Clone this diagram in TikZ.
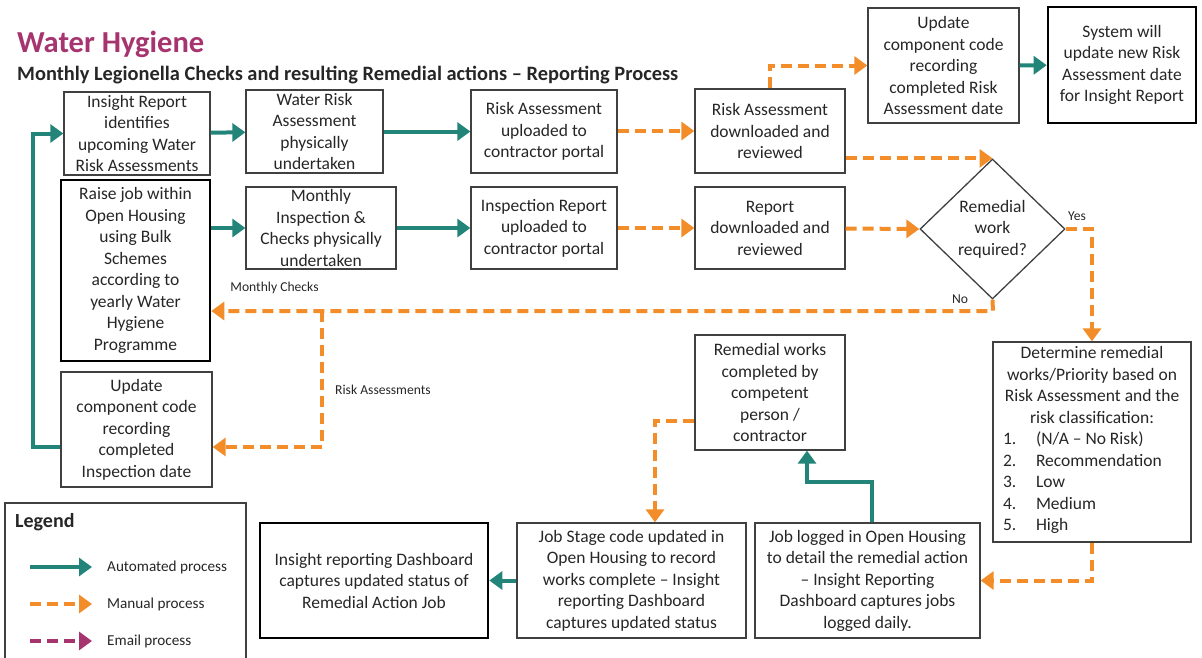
\documentclass[tikz,border=0pt]{standalone}
\usepackage{fontspec}
\setmainfont{Carlito}
\usetikzlibrary{arrows.meta,shapes.geometric}
\definecolor{whteal}{RGB}{35,132,122}
\definecolor{whorange}{RGB}{242,141,42}
\definecolor{whplum}{RGB}{166,52,110}
\definecolor{whgrey}{RGB}{64,64,64}

\begin{document}
\begin{tikzpicture}[
    x=1pt, y=-1pt,
    font=\fontsize{17.5}{21.5}\selectfont,
    text=black!85
]
	\tikzset{
	    procnode/.style = {rectangle, draw=whgrey, line width=1.3pt, align=center, inner sep=0pt},
	    procnodeb/.style = {rectangle, draw=black, line width=2.6pt, align=center, inner sep=0pt},
	    decnode/.style = {diamond, draw=whgrey, line width=1.3pt, align=center, inner sep=0pt, minimum width=145pt, minimum height=140pt},
	    edgeauto/.style = {-{Triangle[length=13pt,width=18pt]}, line width=4pt, whteal},
	    edgeman/.style = {-{Triangle[length=13pt,width=18pt]}, line width=4pt, whorange, dash pattern=on 11pt off 6pt},
	    edgemail/.style = {edgeman, whplum},
	    smalllbl/.style = {font=\fontsize{13.6}{16}\selectfont, inner sep=0pt},
	    legendlbl/.style = {font=\fontsize{15.2}{18}\selectfont, inner sep=0pt, anchor=west}
	}
	\useasboundingbox (0,0) rectangle (1202,657);
	% heading
	\node[anchor=base west, inner sep=0pt, text=whplum, font=\fontsize{30.5}{36}\selectfont\bfseries] at (17,52) (title) {Water Hygiene};
	\node[anchor=base west, inner sep=0pt, font=\fontsize{20.4}{24}\selectfont\bfseries] at (17,80) (subtitle) {Monthly Legionella Checks and resulting Remedial actions – Reporting Process};
	% top row
	\node[procnode, minimum width=146pt, minimum height=83pt] at (137,133.5) (insight) {Insight Report\\identifies\\upcoming Water\\Risk Assessments};
	\node[procnode, minimum width=137pt, minimum height=83pt] at (314.5,131.5) (wrassess) {Water Risk\\Assessment\\physically\\undertaken};
	\node[procnode, minimum width=146pt, minimum height=83pt] at (544,131.5) (raup) {Risk Assessment\\uploaded to\\contractor portal};
	\node[procnode, minimum width=150pt, minimum height=84pt] at (770,131) (radown) {Risk Assessment\\downloaded and\\reviewed};
	\node[procnode, minimum width=151pt, minimum height=115pt] at (943.5,65.5) (updtop) {Update\\component code\\recording\\completed Risk\\Assessment date};
	\node[procnodeb, minimum width=148pt, minimum height=116pt] at (1122,65) (sysupd) {System will\\update new Risk\\Assessment date\\for Insight Report};
	% second row
	\node[procnodeb, minimum width=149pt, minimum height=181pt] at (135.5,270.5) (raisejob) {Raise job within\\Open Housing\\using Bulk\\Schemes\\according to\\yearly Water\\Hygiene\\Programme};
	\node[procnode, minimum width=150pt, minimum height=82pt] at (321,228) (monthly) {Monthly\\Inspection \&\\Checks physically\\undertaken};
	\node[procnode, minimum width=146pt, minimum height=82pt] at (544,228) (inspup) {Inspection Report\\uploaded to\\contractor portal};
	\node[procnode, minimum width=150pt, minimum height=82pt] at (770,228) (repdown) {Report\\downloaded and\\reviewed};
	\node[decnode] at (992.5,229) (remreq) {Remedial\\work\\required?};
	% lower part
	\node[procnode, minimum width=198pt, minimum height=200pt] at (1092,442) (determine) {Determine remedial\\works/Priority based on\\Risk Assessment and the\\risk classification:\\
	    \makebox[190pt][l]{\hspace{6pt}\begin{tabular}[t]{@{}p{33pt}@{}l@{}}1.&(N/A – No Risk)\\2.&Recommendation\\3.&Low\\4.&Medium\\5.&High\end{tabular}}};
	\node[procnode, minimum width=150pt, minimum height=115pt] at (770,392.5) (remdone) {Remedial works\\completed by\\competent\\person /\\contractor};
	\node[procnode, minimum width=151pt, minimum height=115pt] at (136.5,429.5) (updbot) {Update\\component code\\recording\\completed\\Inspection date};
	\node[procnode, minimum width=225pt, minimum height=115pt] at (867.5,580.5) (joblog) {Job logged in Open Housing\\to detail the remedial action\\– Insight Reporting\\Dashboard captures jobs\\logged daily.};
	\node[procnode, minimum width=229pt, minimum height=115pt] at (631.5,580.5) (jobstage) {Job Stage code updated in\\Open Housing to record\\works complete – Insight\\reporting Dashboard\\captures updated status};
	\node[procnodeb, minimum width=228pt, minimum height=115pt] at (374,580.5) (dashbd) {Insight reporting Dashboard\\captures updated status of\\Remedial Action Job};
	% bend points
	\coordinate (loopbend) at (33,447);
	\coordinate (nobend) at (993,311);
	\coordinate (rabranch) at (322,311);
	\coordinate (rabend) at (322,447);
	\coordinate (rdbend) at (655,421);
	\coordinate (jlbend) at (872,482);
	\coordinate (jlbendb) at (807,482);
	% automated flows
	\draw[edgeauto] (insight) -- (wrassess);
	\draw[edgeauto] (wrassess) -- (raup);
	\draw[edgeauto] (raisejob.east |- monthly) -- (monthly);
	\draw[edgeauto] (monthly) -- (inspup);
	\draw[edgeauto] (updtop) -- (sysupd);
	\draw[edgeauto] (updbot.west |- loopbend) -- (loopbend) |- (insight.west);
	\draw[edgeauto] (jobstage) -- (dashbd);
	\draw[edgeauto] (jlbend |- joblog.north) -- (jlbend) -- (jlbendb) -- (jlbendb |- remdone.south);
	% manual flows
	\draw[edgeman] (raup.east |- radown) -- (radown);
	\draw[edgeman] (inspup) -- (repdown);
	\draw[edgeman] (repdown) -- (remreq.west);
	\draw[edgeman] (radown.east |- remreq.north) -- (remreq.north);
	\draw[edgeman] (radown.north) |- (updtop.west);
	\draw[edgeman] (remreq.east) -| (determine.north);
	\draw[edgeman] (remreq.south) -- (nobend) -- (nobend -| raisejob.east);
	\draw[edgeman] (rabranch) -- (rabend) -- (rabend -| updbot.east);
	\draw[edgeman] (determine.south) |- (joblog.east);
	\draw[edgeman] (rdbend -| remdone.west) -- (rdbend) -- (rdbend |- jobstage.north);
	% flow labels
	\node[smalllbl] at (1077,216) (yeslbl) {Yes};
	\node[smalllbl] at (960,299) (nolbl) {No};
	\node[smalllbl] at (274.5,288) (monthlbl) {Monthly Checks};
	\node[smalllbl] at (383,390) (ralbl) {Risk Assessments};
	% legend
	\draw[whgrey, line width=1.3pt] (5,503) rectangle (246,668);
	\node[anchor=west, inner sep=0pt, font=\fontsize{20}{24}\selectfont\bfseries] at (15,522) (legendttl) {Legend};
	\coordinate (lgautoa) at (30,567);
	\coordinate (lgautob) at (92,567);
	\coordinate (lgmana) at (30,604);
	\coordinate (lgmanb) at (92,604);
	\coordinate (lgmaila) at (30,641);
	\coordinate (lgmailb) at (92,641);
	\draw[edgeauto] (lgautoa) -- (lgautob);
	\draw[edgeman] (lgmana) -- (lgmanb);
	\draw[edgemail] (lgmaila) -- (lgmailb);
	\node[legendlbl] at (107,567) (lgauto) {Automated process};
	\node[legendlbl] at (107,604) (lgman) {Manual process};
	\node[legendlbl] at (107,641) (lgmail) {Email process};
\end{tikzpicture}
\end{document}
